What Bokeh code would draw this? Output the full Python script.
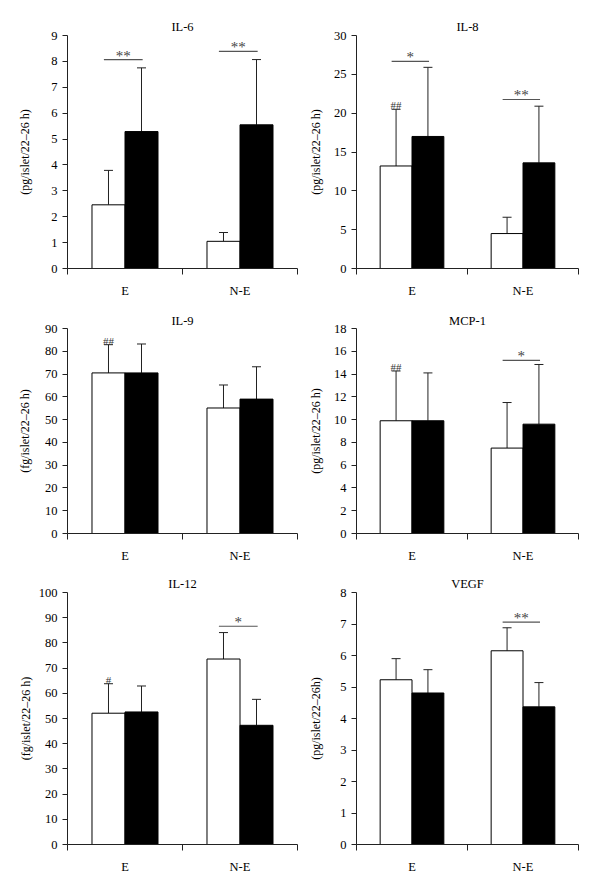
from bokeh.plotting import figure
from bokeh.models import (ColumnDataSource, Range1d, FixedTicker, Whisker, TeeHead, Label)
from bokeh.layouts import column, row
from bokeh.embed import file_html
from bokeh.resources import INLINE

# ---------------- data ----------------
categories = ["E", "N-E"]
panel_titles = ["IL-6", "IL-8", "IL-9", "MCP-1", "IL-12", "VEGF"]
y_labels = ["(pg/islet/22\u201326 h)", "(pg/islet/22\u201326 h)", "(fg/islet/22\u201326 h)",
            "(pg/islet/22\u201326 h)", "(fg/islet/22\u201326 h)", "(pg/islet/22\u201326h)"]
y_max = [9, 30, 90, 18, 100, 8]
y_step = [1, 5, 10, 2, 10, 1]

white_mean = [[2.46, 1.05], [13.2, 4.5], [70.5, 55.1], [9.9, 7.5], [52.1, 73.6], [5.23, 6.15]]
white_upper = [[3.79, 1.39], [20.5, 6.6], [82.9, 65.2], [14.27, 11.5], [63.8, 84.1], [5.9, 6.88]]
black_mean = [[5.29, 5.55], [17.0, 13.6], [70.5, 59.0], [9.9, 9.6], [52.6, 47.3], [4.81, 4.37]]
black_upper = [[7.75, 8.07], [25.9, 20.9], [83.2, 73.2], [14.1, 14.84], [62.9, 57.6], [5.55, 5.14]]

# significance brackets: (panel, category index, level, mark)
sig_panel = [0, 0, 1, 1, 3, 4, 5]
sig_cat = [0, 1, 0, 1, 1, 1, 1]
sig_level = [8.07, 8.39, 26.66, 21.76, 15.2, 86.6, 7.06]
sig_mark = ["**", "**", "*", "**", "*", "*", "**"]

# marks over the white (E) error bars
hash_panel = [1, 2, 3, 4]
hash_mark = ["##", "##", "##", "#"]

FONT = "Liberation Serif"
BW = 0.287  # bar width in category units

col_geom = [dict(width=300, left=67, right=3), dict(width=300, left=56, right=22)]
row_geom = [dict(height=300, top=35, bottom=30, tstand=3),
            dict(height=265, top=28, bottom=27, tstand=1),
            dict(height=316, top=27, bottom=37, tstand=4)]


def make_panel(i):
    cg = col_geom[i % 2]
    rg = row_geom[i // 2]
    p = figure(width=cg["width"], height=rg["height"], output_backend="svg",
               toolbar_location=None, x_range=Range1d(0, 2),
               y_range=Range1d(0, y_max[i]),
               min_border_left=cg["left"], min_border_right=cg["right"],
               min_border_top=rg["top"], min_border_bottom=rg["bottom"])
    p.outline_line_color = None
    p.grid.visible = False
    p.background_fill_color = "white"

    p.title.text = panel_titles[i]
    p.title.align = "center"
    p.title.text_font = FONT
    p.title.text_font_size = "12.5px"
    p.title.text_font_style = "normal"
    p.title.text_color = "black"
    p.title.standoff = rg["tstand"]

    centers = [0.5 + k for k in range(len(categories))]
    wx = [c - BW / 2 for c in centers]
    bx = [c + BW / 2 for c in centers]

    src_w = ColumnDataSource(dict(x=wx, top=white_mean[i], up=white_upper[i]))
    src_b = ColumnDataSource(dict(x=bx, top=black_mean[i], up=black_upper[i]))

    p.vbar(x="x", top="top", bottom=0, width=BW, source=src_w,
           fill_color="white", line_color="black", line_width=1)
    p.vbar(x="x", top="top", bottom=0, width=BW, source=src_b,
           fill_color="black", line_color="black", line_width=1)

    for s in (src_w, src_b):
        w = Whisker(source=s, base="x", lower="top", upper="up",
                    line_color="#222222", line_width=1,
                    upper_head=TeeHead(size=9, line_color="#222222", line_width=1),
                    lower_head=None)
        p.add_layout(w)

    for k in range(len(sig_panel)):
        if sig_panel[k] != i:
            continue
        c = centers[sig_cat[k]]
        x0 = c - BW / 2 - 0.04
        x1 = c + BW / 2 + 0.01
        p.segment(x0=[x0], y0=[sig_level[k]], x1=[x1], y1=[sig_level[k]],
                  line_color="#555555", line_width=1.2)
        p.add_layout(Label(x=(x0 + x1) / 2, y=sig_level[k], y_offset=4,
                           text=sig_mark[k], text_align="center",
                           text_baseline="alphabetic", text_font=FONT,
                           text_font_size="15px", text_color="#444444"))

    for k in range(len(hash_panel)):
        if hash_panel[k] != i:
            continue
        p.add_layout(Label(x=wx[0], y=white_upper[i][0], y_offset=4,
                           text=hash_mark[k], text_align="center",
                           text_baseline="alphabetic", text_font=FONT,
                           text_font_size="11px", text_color="#333333"))

    xa = p.xaxis[0]
    xa.ticker = FixedTicker(ticks=centers, minor_ticks=[0, 1, 2])
    xa.major_label_overrides = {c: categories[k] for k, c in enumerate(centers)}
    xa.major_tick_out = 0
    xa.major_tick_in = 0
    xa.minor_tick_out = 6
    xa.minor_tick_in = 0
    xa.major_label_standoff = 9
    xa.major_label_text_font = FONT
    xa.major_label_text_font_size = "12.5px"
    xa.major_label_text_color = "black"
    xa.axis_line_color = "#222222"
    xa.minor_tick_line_color = "#222222"

    ya = p.yaxis[0]
    ticks = list(range(0, y_max[i] + 1, y_step[i]))
    ya.ticker = FixedTicker(ticks=ticks, minor_ticks=[])
    ya.major_tick_out = 5
    ya.major_tick_in = 0
    ya.major_label_standoff = 5
    ya.major_label_text_font = FONT
    ya.major_label_text_font_size = "12.5px"
    ya.major_label_text_color = "black"
    ya.axis_line_color = "#222222"
    ya.major_tick_line_color = "#222222"
    ya.axis_label = y_labels[i]
    ya.axis_label_text_font = FONT
    ya.axis_label_text_font_size = "12px"
    ya.axis_label_text_font_style = "normal"
    ya.axis_label_text_color = "black"
    ndig = len(str(y_max[i]))
    base = 22 if i % 2 == 0 else 20.5
    ya.axis_label_standoff = max(0, int(round(base - 6.2 * ndig)))
    return p


panels = [make_panel(i) for i in range(6)]
layout = column(row(panels[0], panels[1]), row(panels[2], panels[3]),
                row(panels[4], panels[5]))

open("out.html", "w").write(file_html(layout, INLINE))
